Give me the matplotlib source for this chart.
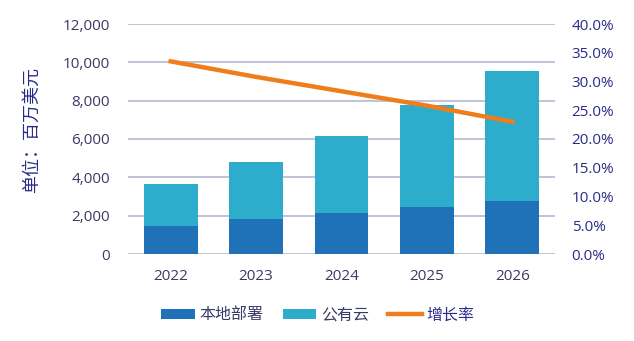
import matplotlib.pyplot as plt
from matplotlib.ticker import FuncFormatter
import numpy as np

plt.rcParams['font.family'] = ['Open Sans', 'Noto Sans CJK SC', 'DejaVu Sans']

years = ['2022', '2023', '2024', '2025', '2026']
on_prem = [1480, 1810, 2120, 2430, 2750]        # 本地部署
total = [3670, 4810, 6170, 7780, 9560]           # 本地部署 + 公有云
public_cloud = [t - o for t, o in zip(total, on_prem)]
growth = [33.5, 30.8, 28.3, 25.8, 23.0]          # 增长率 (%)

dark_blue = '#1f72b8'
light_blue = '#2eaccb'
orange = '#f07d1c'
grid_color = '#b4b9d2'
tick_color = '#3a3a66'
label_color = '#2b2b88'

fig = plt.figure(figsize=(6.34, 3.41), dpi=100)
ax = fig.add_axes([128 / 634, 1 - 254 / 341, 427 / 634, 230 / 341])
x = np.arange(len(years))

ax.set_axisbelow(True)
ax.yaxis.grid(True, color=grid_color, linewidth=1.2)
b1 = ax.bar(x, on_prem, width=0.63, color=dark_blue, label='本地部署')
b2 = ax.bar(x, public_cloud, width=0.63, bottom=on_prem, color=light_blue, label='公有云')
ax.set_xlim(-0.5, 4.5)
ax.set_ylim(0, 12000)
ax.set_yticks(range(0, 12001, 2000))
ax.yaxis.set_major_formatter(FuncFormatter(lambda v, p: f'{int(v):,}'))
ax.set_xticks(x)
ax.set_xticklabels(years)
for s in ax.spines.values():
    s.set_visible(False)
ax.tick_params(axis='both', length=0, labelsize=11, colors=tick_color)
ax.tick_params(axis='y', pad=13)
ax.tick_params(axis='x', pad=11)
ax.set_ylabel('单位：百万美元', color=label_color, fontsize=13,
              family=['Noto Sans CJK SC', 'DejaVu Sans'])
ax.yaxis.set_label_coords(-87 / 427, 0.54)

ax2 = ax.twinx()
line, = ax2.plot(x, growth, color=orange, linewidth=3.2, label='增长率')
ax2.set_ylim(0, 40)
ax2.set_yticks(np.arange(0, 40.1, 5))
ax2.yaxis.set_major_formatter(FuncFormatter(lambda v, p: f'{v:.1f}%'))
for s in ax2.spines.values():
    s.set_visible(False)
ax2.tick_params(axis='y', length=0, labelsize=11, colors=label_color, pad=12)

leg = fig.legend(handles=[b1, b2, line], loc='center', bbox_to_anchor=(318 / 634, 1 - 315 / 341),
                 ncol=3, frameon=False, handlelength=2.1, handleheight=0.6,
                 handletextpad=0.3, columnspacing=1.2,
                 prop={'family': ['Noto Sans CJK SC', 'DejaVu Sans'], 'size': 11.5})
for t, c in zip(leg.get_texts(), [tick_color, tick_color, label_color]):
    t.set_color(c)

fig.savefig('out.png', dpi=100, facecolor='white')
